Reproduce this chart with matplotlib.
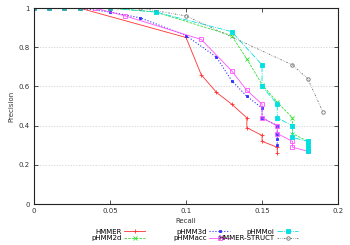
import matplotlib
matplotlib.use("Agg")
import matplotlib.pyplot as plt

# ── data ──────────────────────────────────────────────────────────────────────
hmmer_r  = [0, 0.01, 0.02, 0.03, 0.10, 0.11, 0.12, 0.13, 0.14, 0.14, 0.15, 0.15, 0.16, 0.16]
hmmer_p  = [1, 1, 1, 1, 0.85, 0.66, 0.57, 0.51, 0.44, 0.39, 0.35, 0.32, 0.29, 0.26]

p2d_r    = [0, 0.01, 0.02, 0.03, 0.05, 0.08, 0.13, 0.14, 0.15, 0.16, 0.17, 0.17, 0.17, 0.18]
p2d_p    = [1, 1, 1, 1, 1, 0.98, 0.86, 0.74, 0.61, 0.52, 0.44, 0.40, 0.36, 0.32]

p3d_r    = [0, 0.01, 0.02, 0.03, 0.05, 0.07, 0.10, 0.12, 0.13, 0.14, 0.15, 0.15, 0.16, 0.16, 0.16, 0.16]
p3d_p    = [1, 1, 1, 1, 0.98, 0.95, 0.86, 0.75, 0.63, 0.55, 0.49, 0.44, 0.40, 0.36, 0.33, 0.30]

pacc_r   = [0, 0.01, 0.02, 0.03, 0.04, 0.06, 0.11, 0.13, 0.14, 0.15, 0.15, 0.16, 0.16, 0.17, 0.17, 0.18]
pacc_p   = [1, 1, 1, 1, 1, 0.96, 0.84, 0.68, 0.58, 0.51, 0.44, 0.40, 0.36, 0.32, 0.29, 0.27]

poi_r    = [0, 0.01, 0.02, 0.03, 0.05, 0.08, 0.13, 0.15, 0.15, 0.16, 0.16, 0.17, 0.17, 0.18, 0.18, 0.18, 0.18]
poi_p    = [1, 1, 1, 1, 1, 0.98, 0.88, 0.71, 0.60, 0.51, 0.44, 0.40, 0.34, 0.32, 0.30, 0.28, 0.27]

struct_r = [0, 0.01, 0.02, 0.03, 0.05, 0.07, 0.10, 0.17, 0.18, 0.19]
struct_p = [1, 1, 1, 1, 1, 1, 0.96, 0.71, 0.64, 0.47]

x_ticks = [0, 0.05, 0.1, 0.15, 0.2]
x_tick_labels = ["0", "0.05", "0.1", "0.15", "0.2"]
y_ticks = [0, 0.2, 0.4, 0.6, 0.8, 1]
y_tick_labels = ["0", "0.2", "0.4", "0.6", "0.8", "1"]

FS = 5

fig = plt.figure(figsize=(3.5, 2.45), dpi=100)
ax = fig.add_axes([0.097, 0.167, 0.869, 0.80])

kw = dict(lw=0.6, ms=2.5, mew=0.6)
ax.plot(hmmer_r, hmmer_p, color="#ff3030", ls="-", marker="+", label="HMMER", **kw)
ax.plot(p2d_r, p2d_p, color="#30e030", ls="--", dashes=(3, 1.5), marker="x", label="pHMM2d", **kw)
ax.plot(p3d_r, p3d_p, color="#3030ff", ls=":", marker="s", ms=2, mew=0.6, lw=0.8,
        label="pHMM3d")
ax.plot(pacc_r, pacc_p, color="#ff50ff", ls="-", marker="s", mfc="none", label="pHMMacc", **kw)
ax.plot(poi_r, poi_p, color="#00e0e0", ls="-.", marker="s", ms=3, mew=0.6, lw=0.6,
        label="pHMMoi")
ax.plot(struct_r, struct_p, color="#707070", ls=(0, (2, 1.5, 0.6, 1.5, 0.6, 1.5)),
        marker="o", mfc="none", label="HMMER-STRUCT", **kw)

ax.set_xlim(0, 0.2)
ax.set_ylim(0, 1)
ax.set_xticks(x_ticks)
ax.set_xticklabels(x_tick_labels)
ax.set_yticks(y_ticks)
ax.set_yticklabels(y_tick_labels)
ax.tick_params(direction="in", length=3, width=0.6, labelsize=FS, pad=3,
               top=True, right=True, colors="#333333")
ax.grid(axis="y", color="#cccccc", ls=(0, (2, 2)), lw=0.5)
for s in ax.spines.values():
    s.set_linewidth(0.8)
    s.set_color("#222222")

ax.set_xlabel("Recall", fontsize=FS, labelpad=3, color="#333333")
ax.set_ylabel("Precision", fontsize=FS, labelpad=3, color="#333333")

# gnuplot-style key: one legend per column, right-aligned text then sample
handles, labels = ax.get_legend_handles_labels()
col_right = [0.365, 0.645, 0.868]
for i, xr in enumerate(col_right):
    leg = ax.legend(handles[2 * i:2 * i + 2], labels[2 * i:2 * i + 2],
                    loc="upper right", bbox_to_anchor=(xr, -0.125), frameon=False,
                    fontsize=FS, markerfirst=False, handlelength=3, labelspacing=0.1,
                    handletextpad=0.4, borderpad=0, borderaxespad=0)
    if i < len(col_right) - 1:
        ax.add_artist(leg)

fig.savefig("out.png", dpi=100)
